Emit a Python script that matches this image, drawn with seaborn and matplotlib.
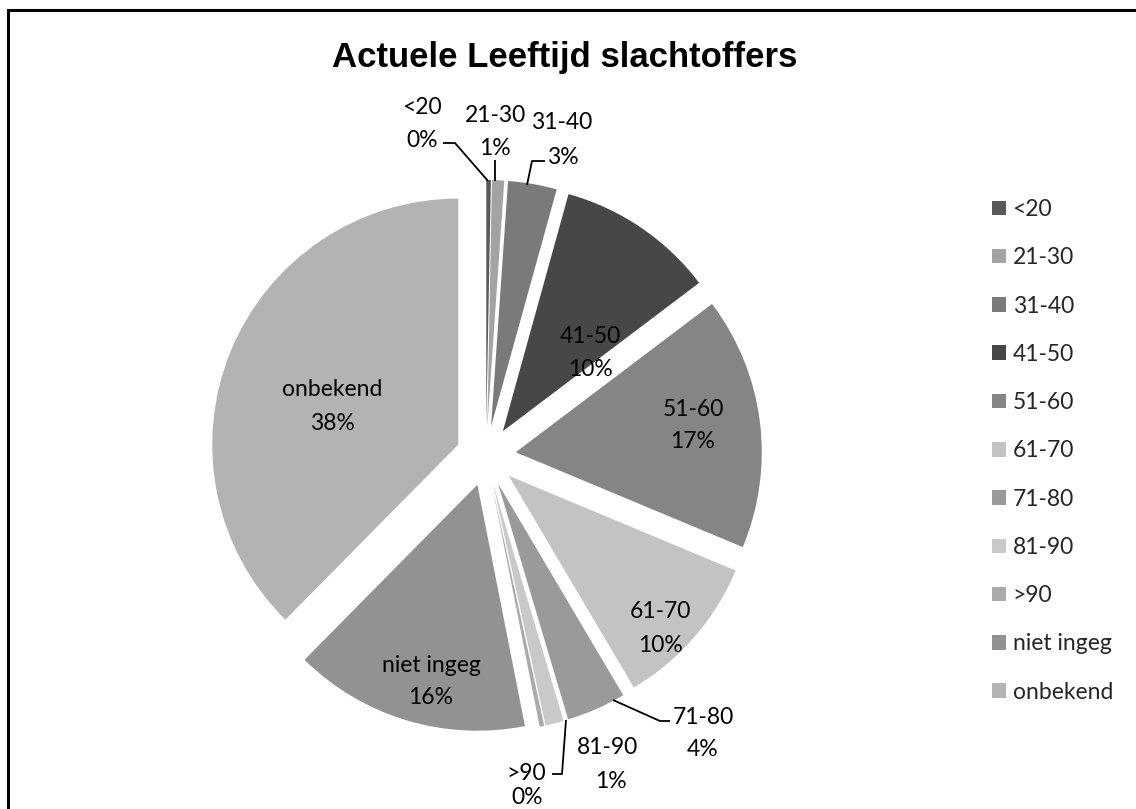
import matplotlib
matplotlib.use("Agg")
import matplotlib.pyplot as plt
from matplotlib.patches import Patch, Rectangle
import seaborn as sns

# ---- data ----
categories = ["<20", "21-30", "31-40", "41-50", "51-60", "61-70",
              "71-80", "81-90", ">90", "niet ingeg", "onbekend"]
shares = [0.3, 0.8, 3.2, 10.4, 16.6, 10.2, 3.9, 1.2, 0.3, 15.5, 37.6]
colors = ["#595959", "#a3a3a3", "#7a7a7a", "#474747", "#858585", "#c3c3c3",
          "#9a9a9a", "#c9c9c9", "#aaaaaa", "#929292", "#b3b3b3"]
title = "Actuele Leeftijd slachtoffers"

# ---- layout (image pixel coordinates) ----
W, H = 1136, 809
label_pos = {  # (name centre, percentage centre)
    "<20": ((422, 107), (422, 140)),
    "21-30": ((495, 115), (495, 148)),
    "31-40": ((562, 122), (563, 157)),
    "41-50": ((590, 336), (590, 369)),
    "51-60": ((693, 409), (693, 441)),
    "61-70": ((660, 611), (660, 645)),
    "71-80": ((703, 717), (703, 749)),
    "81-90": ((608, 748), (611, 781)),
    ">90": ((526, 773), (527, 797)),
    "niet ingeg": ((431, 666), (431, 698)),
    "onbekend": ((332, 389), (332, 423)),
}
leaders = [
    [(443, 143), (455, 143), (488, 181)],
    [(495, 160), (495, 181)],
    [(545, 161), (532, 161), (527, 185)],
    [(613, 700), (660, 721), (670, 721)],
    [(566, 720), (562, 774), (552, 774)],
]

sns.set_theme(style="white")
plt.rcParams["font.family"] = ["Lato", "DejaVu Sans"]

fig = plt.figure(figsize=(W / 100, H / 100), dpi=100)
ax = fig.add_axes([0, 0, 1, 1])


def P(xy):
    return (xy[0], H - xy[1])


R = 246
wedges, _ = ax.pie(shares, colors=colors, startangle=90, counterclock=False,
                   explode=[30] * len(shares), radius=R,
                   center=P((486, 456)),
                   wedgeprops=dict(linewidth=0))
ax.set_xlim(0, W)
ax.set_ylim(0, H)
ax.set_aspect("equal")
ax.axis("off")

fs = 16.5
for cat, v in zip(categories, shares):
    (n_xy, p_xy) = label_pos[cat]
    ax.text(*P(n_xy), cat, ha="center", va="center", fontsize=fs, color="black")
    ax.text(*P(p_xy), f"{round(v)}%", ha="center", va="center", fontsize=fs, color="black")

for pts in leaders:
    xs = [p[0] for p in pts]
    ys = [H - p[1] for p in pts]
    ax.plot(xs, ys, color="black", lw=1.3, solid_capstyle="butt")

ax.text(565, H - 57, title, ha="center", va="center", fontsize=25,
        fontweight="bold", family=["Liberation Sans", "DejaVu Sans"], color="black")

# outer chart border (extends beyond the image on right and bottom)
ax.add_patch(Rectangle((8, -20), W + 40, H - 10 + 20, fill=False,
                       edgecolor="black", lw=2.2, clip_on=False))

handles = [Patch(facecolor=c, edgecolor="none") for c in colors]
leg = ax.legend(handles, categories, loc="upper left",
                bbox_to_anchor=(992 / W, 1 - 199 / H), frameon=False,
                fontsize=fs, handlelength=0.6, handleheight=0.6,
                handletextpad=0.3, labelspacing=1.19, borderpad=0,
                borderaxespad=0)

fig.savefig("out.png", dpi=100)
